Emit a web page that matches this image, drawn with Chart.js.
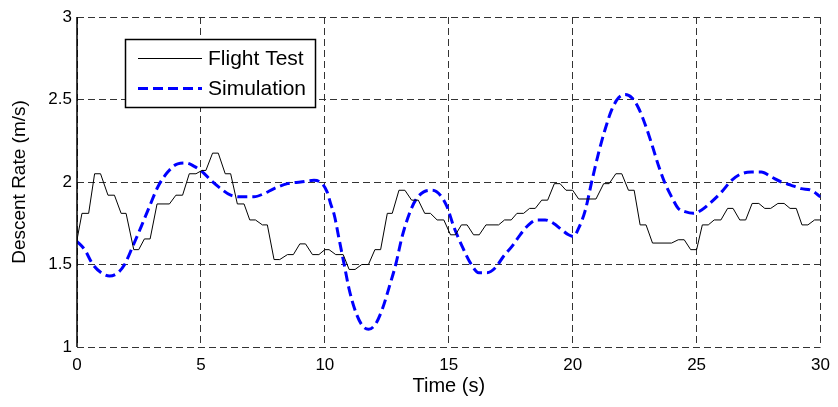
<!DOCTYPE html>
<html><head><meta charset="utf-8">
<script src="https://cdn.jsdelivr.net/npm/chart.js@4/dist/chart.umd.min.js"></script>
<style>html,body{margin:0;padding:0;background:#fff}#wrap{width:838px;height:407px}</style>
</head><body><div id="wrap"><canvas id="c" width="838" height="407"></canvas></div>
<script>
const seriesNames = ['Flight Test', 'Simulation'];
const xTitle = 'Time (s)';
const yTitle = 'Descent Rate (m/s)';
const xTicks = [0, 5, 10, 15, 20, 25, 30];
const yTicks = [1, 1.5, 2, 2.5, 3];

const flightTime = [0, 0.2, 0.47, 0.71, 0.95, 1.25, 1.51, 1.78, 1.98, 2.29, 2.49, 2.72, 2.95, 3.23, 3.73, 3.99, 4.26, 4.53, 4.8, 5.04, 5.2, 5.47, 5.7, 5.98, 6.2, 6.47, 6.74, 6.97, 7.2, 7.48, 7.68, 7.95, 8.18, 8.49, 8.73, 8.99, 9.22, 9.5, 9.76, 10.0, 10.17, 10.44, 10.74, 10.98, 11.22, 11.49, 11.76, 12.02, 12.25, 12.52, 12.72, 12.99, 13.23, 13.5, 13.77, 14.03, 14.26, 14.53, 14.8, 15.07, 15.27, 15.51, 15.74, 16.0, 16.23, 16.5, 17.01, 17.25, 17.52, 17.75, 18.02, 18.26, 18.49, 18.75, 18.99, 19.26, 19.49, 19.73, 20.0, 20.24, 20.94, 21.25, 21.47, 21.74, 21.98, 22.25, 22.48, 22.72, 22.96, 23.22, 23.99, 24.26, 24.5, 24.76, 25.0, 25.23, 25.47, 25.71, 25.98, 26.25, 26.47, 26.74, 26.98, 27.24, 27.51, 27.75, 27.99, 28.28, 28.53, 28.77, 29.02, 29.25, 29.49, 29.76, 30.0];
const flightRate = [1.65, 1.81, 1.81, 2.05, 2.05, 1.92, 1.92, 1.81, 1.81, 1.59, 1.59, 1.655, 1.655, 1.867, 1.867, 1.92, 1.92, 2.05, 2.05, 2.07, 2.07, 2.175, 2.175, 2.05, 2.05, 1.867, 1.867, 1.77, 1.77, 1.74, 1.74, 1.53, 1.53, 1.56, 1.56, 1.625, 1.625, 1.56, 1.56, 1.59, 1.59, 1.56, 1.56, 1.47, 1.47, 1.5, 1.5, 1.59, 1.59, 1.81, 1.81, 1.95, 1.95, 1.89, 1.89, 1.81, 1.81, 1.77, 1.77, 1.68, 1.68, 1.74, 1.74, 1.68, 1.68, 1.74, 1.74, 1.77, 1.77, 1.81, 1.81, 1.84, 1.84, 1.89, 1.89, 1.99, 1.99, 1.95, 1.95, 1.897, 1.897, 1.99, 1.99, 2.05, 2.05, 1.95, 1.95, 1.74, 1.74, 1.63, 1.63, 1.65, 1.65, 1.59, 1.59, 1.74, 1.74, 1.77, 1.77, 1.84, 1.84, 1.77, 1.77, 1.87, 1.87, 1.84, 1.84, 1.87, 1.87, 1.84, 1.84, 1.74, 1.74, 1.77, 1.77];

const simTime = [0, 0.31, 0.64, 0.98, 1.31, 1.65, 1.92, 2.25, 2.59, 2.92, 3.26, 3.66, 4.06, 4.4, 4.73, 5.07, 5.4, 5.8, 6.2, 6.74, 7.14, 7.55, 7.95, 8.49, 9.02, 9.56, 9.89, 10.09, 10.23, 10.38, 10.58, 10.78, 10.98, 11.25, 11.51, 11.76, 12.05, 12.32, 12.59, 12.86, 13.12, 13.39, 13.66, 13.99, 14.33, 14.66, 14.93, 15.2, 15.54, 15.87, 16.21, 16.54, 16.88, 17.21, 17.55, 17.88, 18.22, 18.55, 18.89, 19.22, 19.56, 19.83, 20.03, 20.24, 20.51, 20.78, 21.05, 21.31, 21.58, 21.85, 22.12, 22.39, 22.65, 22.92, 23.19, 23.46, 23.73, 23.99, 24.26, 24.53, 24.87, 25.2, 25.6, 26.01, 26.41, 26.81, 27.21, 27.61, 28.02, 28.42, 28.82, 29.22, 29.62, 30.0];
const simRate = [1.64, 1.59, 1.5, 1.45, 1.43, 1.45, 1.5, 1.61, 1.73, 1.85, 1.97, 2.06, 2.11, 2.115, 2.095, 2.06, 2.01, 1.96, 1.92, 1.91, 1.91, 1.93, 1.96, 1.99, 2.0, 2.01, 1.99, 1.94, 1.87, 1.8, 1.65, 1.5, 1.35, 1.21, 1.13, 1.107, 1.14, 1.23, 1.36, 1.5, 1.67, 1.8, 1.89, 1.94, 1.95, 1.92, 1.85, 1.73, 1.61, 1.51, 1.45, 1.45, 1.48, 1.55, 1.61, 1.68, 1.74, 1.77, 1.77, 1.75, 1.71, 1.68, 1.67, 1.72, 1.83, 2.01, 2.18, 2.32, 2.44, 2.51, 2.53, 2.51, 2.45, 2.35, 2.23, 2.1, 1.99, 1.91, 1.84, 1.82, 1.81, 1.83, 1.88, 1.94, 2.01, 2.05, 2.06, 2.06, 2.03, 2.0, 1.98, 1.96, 1.95, 1.91];

const FONT = '"Liberation Sans", Arial, Helvetica, sans-serif';

const legendBox = {
  id: 'legendBox',
  afterDatasetsDraw(chart) {
    const ctx = chart.ctx;
    const x0 = 125.5, y0 = 39.5, w = 190, h = 68;
    ctx.save();
    ctx.fillStyle = '#fff';
    ctx.fillRect(x0, y0, w, h);
    ctx.strokeStyle = '#000';
    ctx.lineWidth = 1.5;
    ctx.setLineDash([]);
    ctx.strokeRect(x0, y0, w, h);
    const rows = [58, 88];
    chart.data.datasets.forEach((ds, i) => {
      ctx.beginPath();
      ctx.strokeStyle = ds.borderColor;
      ctx.lineWidth = ds.borderWidth;
      ctx.setLineDash(ds.borderDash || []);
      ctx.moveTo(138, rows[i] + 0.5);
      ctx.lineTo(202, rows[i] + 0.5);
      ctx.stroke();
      ctx.setLineDash([]);
      ctx.fillStyle = '#000';
      ctx.font = '21px ' + FONT;
      ctx.textBaseline = 'middle';
      ctx.textAlign = 'left';
      ctx.fillText(ds.label, 208, rows[i] + 1);
    });
    ctx.restore();
  }
};

const axisLine = {
  id: 'axisLine',
  afterDatasetsDraw(chart) {
    const { ctx, chartArea: a } = chart;
    ctx.save();
    ctx.strokeStyle = '#000';
    ctx.lineWidth = 1.5;
    ctx.setLineDash([]);
    ctx.beginPath();
    ctx.moveTo(a.left, a.top);
    ctx.lineTo(a.left, a.bottom);
    ctx.stroke();
    ctx.restore();
  }
};

new Chart(document.getElementById('c'), {
  type: 'line',
  data: {
    datasets: [
      {
        label: seriesNames[0],
        data: flightTime.map((t, i) => ({ x: t, y: flightRate[i] })),
        borderColor: '#000000',
        borderWidth: 1,
        pointRadius: 0,
        tension: 0,
        fill: false
      },
      {
        label: seriesNames[1],
        data: simTime.map((t, i) => ({ x: t, y: simRate[i] })),
        borderColor: '#0000ff',
        borderWidth: 3,
        borderDash: [10, 5],
        pointRadius: 0,
        cubicInterpolationMode: 'monotone',
        fill: false
      }
    ]
  },
  options: {
    responsive: false,
    animation: false,
    devicePixelRatio: 1,
    layout: { padding: { left: 0, right: 15, top: 17, bottom: 0 } },
    plugins: { legend: { display: false }, tooltip: { enabled: false } },
    scales: {
      x: {
        type: 'linear', min: 0, max: 30,
        afterBuildTicks: s => { s.ticks = xTicks.map(v => ({ value: v })); },
        afterFit: s => { s.height = 60; },
        grid: { color: '#333', lineWidth: 1, drawTicks: false },
        border: { display: false, dash: [7, 4] },
        ticks: { color: '#000', padding: 8, font: { family: FONT, size: 17 }, maxRotation: 0, callback: v => String(v) },
        title: { display: true, text: xTitle, color: '#000', font: { family: FONT, size: 20 }, padding: { top: 0, bottom: 9 } }
      },
      y: {
        type: 'linear', min: 1, max: 3,
        afterBuildTicks: s => { s.ticks = yTicks.map(v => ({ value: v })); },
        afterFit: s => { s.width = 77; },
        grid: { color: '#333', lineWidth: 1, drawTicks: false },
        border: { display: false, dash: [7, 4] },
        ticks: { color: '#000', padding: 5, font: { family: FONT, size: 17 }, callback: v => String(v) },
        title: { display: true, text: yTitle, color: '#000', font: { family: FONT, size: 19 }, padding: { top: 8, bottom: 0 } }
      }
    }
  },
  plugins: [axisLine, legendBox]
});
</script>
</body></html>
